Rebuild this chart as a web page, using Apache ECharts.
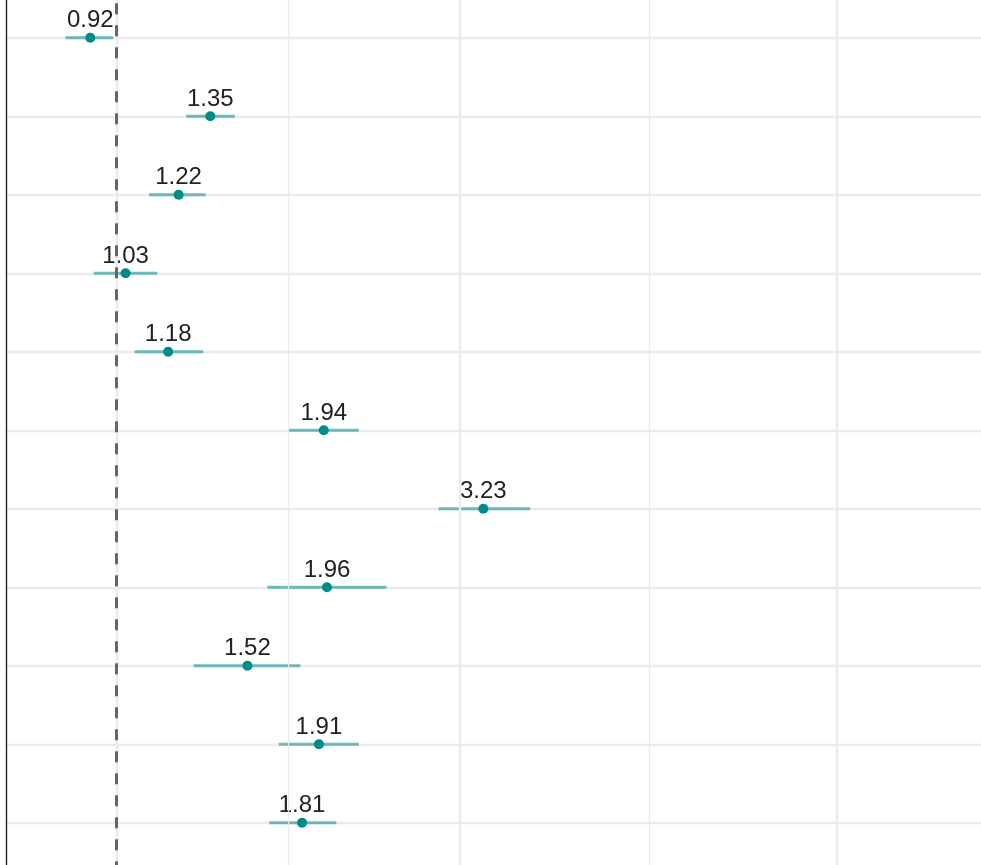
<!DOCTYPE html>
<html>
<head>
<meta charset="utf-8">
<script src="https://cdn.jsdelivr.net/npm/echarts@6/dist/echarts.min.js"></script>
<style>html,body{margin:0;padding:0;background:#fff;}#c{width:981px;height:865px;}</style>
</head>
<body>
<div id="c"></div>
<script>
// Rows from top to bottom
const rows = [1, 2, 3, 4, 5, 6, 7, 8, 9, 10, 11];
const estimates = [0.92, 1.35, 1.22, 1.03, 1.18, 1.94, 3.23, 1.96, 1.52, 1.91, 1.81];
const lower = [0.85, 1.25, 1.11, 0.93, 1.06, 1.73, 2.80, 1.62, 1.28, 1.68, 1.63];
const upper = [0.99, 1.46, 1.33, 1.14, 1.32, 2.17, 3.75, 2.37, 1.80, 2.17, 2.02];
const majorBreaks = [1, 3, 10];
const minorBreaks = [1.73, 5.48];
const referenceValue = 1;

const chart = echarts.init(document.getElementById('c'), null, {renderer: 'canvas'});

const ciData = rows.map((r, i) => [r, lower[i], upper[i]]);
const pointData = rows.map((r, i) => [estimates[i], r]);

const option = {
  animation: false,
  backgroundColor: '#ffffff',
  grid: {
    left: 6.5, right: -2, top: -40.7, bottom: -36.3,
    outerBoundsMode: 'none', containLabel: false
  },
  xAxis: {
    type: 'log', logBase: 10, min: 0.704, max: 15.94,
    axisLine: {show: false, onZero: false},
    axisTick: {show: false}, axisLabel: {show: false},
    splitLine: {show: false}, minorSplitLine: {show: false}
  },
  yAxis: {
    type: 'value', inverse: true, min: 0, max: 12, interval: 1,
    axisLine: {show: true, onZero: false, lineStyle: {color: '#222', width: 1.4}},
    axisTick: {show: false}, axisLabel: {show: false},
    splitLine: {show: true, lineStyle: {color: '#ebebeb', width: 2.4}}
  },
  series: [
    {
      type: 'scatter', data: [], silent: true, z: 1,
      markLine: {
        silent: true, symbol: ['none', 'none'], label: {show: false}, animation: false,
        data: majorBreaks.map(v => ({xAxis: v, lineStyle: {color: '#ebebeb', width: 2.4, type: 'solid'}}))
          .concat(minorBreaks.map(v => ({xAxis: v, lineStyle: {color: '#ebebeb', width: 1.2, type: 'solid'}})))
      }
    },
    {
      type: 'custom', z: 2, silent: true,
      encode: {x: [1, 2], y: 0},
      data: ciData,
      renderItem: function (params, api) {
        const y = api.value(0);
        const p1 = api.coord([api.value(1), y]);
        const p2 = api.coord([api.value(2), y]);
        return {
          type: 'line',
          shape: {x1: p1[0], y1: p1[1], x2: p2[0], y2: p2[1]},
          style: {stroke: 'rgba(0,139,139,0.55)', lineWidth: 3}
        };
      }
    },
    {
      type: 'scatter', data: [], silent: true, z: 3,
      markLine: {
        silent: true, symbol: ['none', 'none'], label: {show: false}, animation: false,
        data: [{xAxis: referenceValue}],
        lineStyle: {color: '#666666', width: 3, type: [11, 11]}
      }
    },
    {
      type: 'scatter', z: 4, silent: true,
      data: pointData,
      symbol: 'circle', symbolSize: 10,
      itemStyle: {color: '#008b8b', opacity: 1},
      label: {
        show: true, position: 'top', distance: 0,
        formatter: p => p.value[0].toFixed(2),
        color: '#222222', fontSize: 24, fontFamily: 'Liberation Sans, Arial, sans-serif'
      }
    }
  ]
};
chart.setOption(option);
</script>
</body>
</html>
